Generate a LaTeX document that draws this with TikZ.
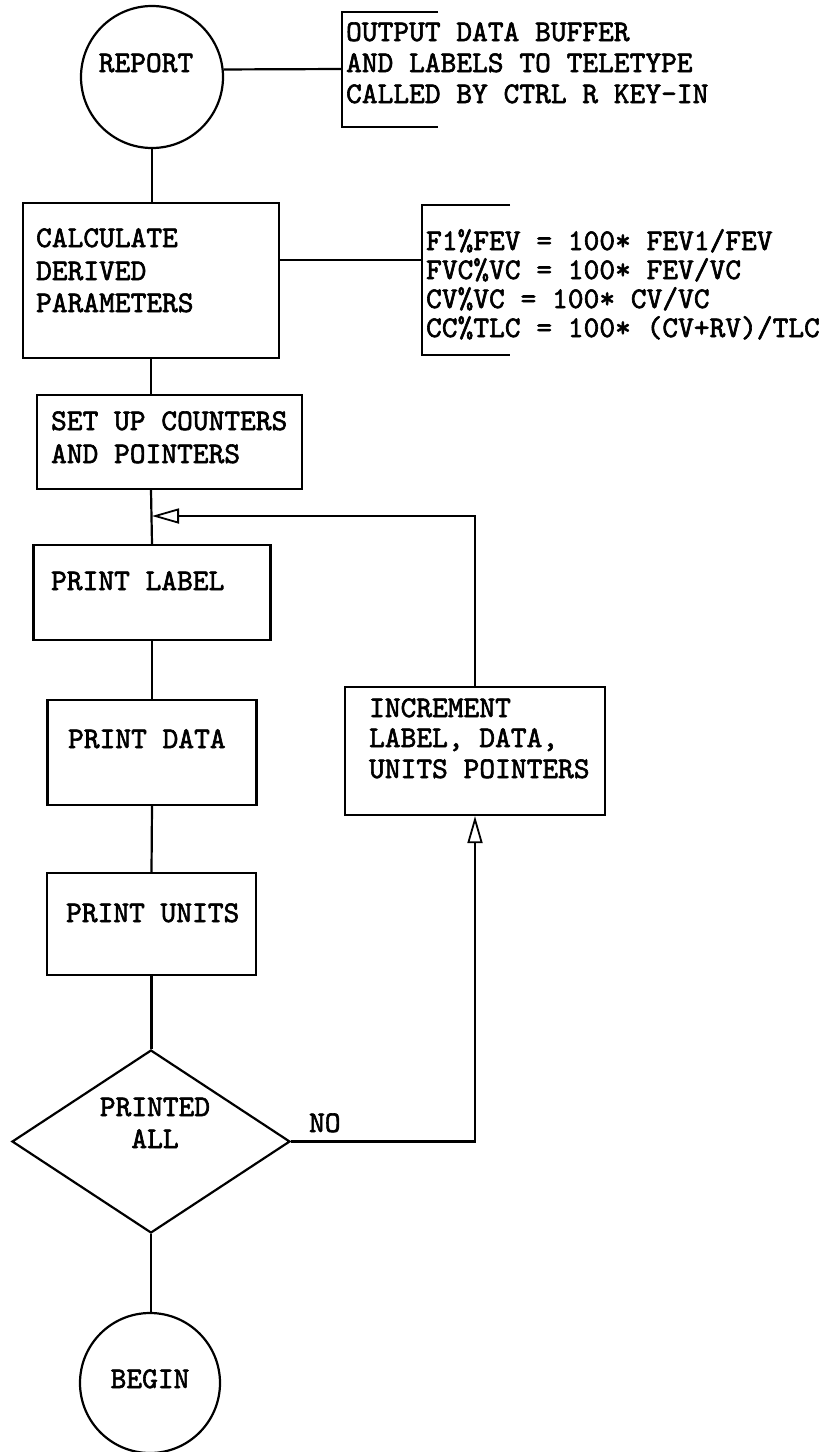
\documentclass[tikz,border=0pt]{standalone}
\usepackage{fontspec}
\newfontfamily\tw{lmmono10-regular}[Extension=.otf,FakeBold=2]
\usetikzlibrary{shapes.geometric,arrows.meta}
\begin{document}
\begin{tikzpicture}[x=1pt,y=-1pt,line width=2.2pt,
  txt/.style={font=\tw\fontsize{30}{31}\selectfont,anchor=base west,inner sep=0pt},
  ctxt/.style={font=\tw\fontsize{30}{31}\selectfont,anchor=base,inner sep=0pt},
  box/.style={draw,rectangle,inner sep=0pt},
  term/.style={draw,circle,inner sep=0pt},
  dec/.style={draw,diamond,inner sep=0pt},
  open tip/.style={-{Triangle[open,length=27pt,width=15pt,line width=1.8pt]}}]
\useasboundingbox (0,0) rectangle (833,1452);
\fill[white] (0,0) rectangle (833,1452);

% nodes
\node[term,minimum size=142pt] (report) at (152,77) {};
\node[box,minimum width=256pt,minimum height=155pt] (calc) at (151,280.5) {};
\node[box,minimum width=265pt,minimum height=94pt] (setup) at (169.5,442) {};
\node[box,minimum width=237pt,minimum height=95pt] (plabel) at (152,592.5) {};
\node[box,minimum width=209pt,minimum height=105pt] (pdata) at (152,752.5) {};
\node[box,minimum width=209pt,minimum height=102pt] (punits) at (151.5,924) {};
\node[dec,minimum width=278pt,minimum height=183pt] (printed) at (151,1141.5) {};
\node[term,minimum size=140pt] (begin) at (150,1383) {};
\node[box,minimum width=260pt,minimum height=128pt] (incr) at (475,751) {};

% annotation brackets
\coordinate (b1) at (342,69);
\draw (438,12) -- (342,12) -- (342,127) -- (438,127);
\coordinate (b2) at (422,260);
\draw (510,205) -- (422,205) -- (422,355) -- (510,355);

% texts
\node[ctxt] (treport) at (146,72) {REPORT};
\node[txt] (t1a) at (345,41) {OUTPUT DATA BUFFER};
\node[txt] (t1b) at (345,72) {AND LABELS TO TELETYPE};
\node[txt] (t1c) at (345,103) {CALLED BY CTRL R KEY-IN};
\node[txt] (tca) at (35,247) {CALCULATE};
\node[txt] (tcb) at (35,280) {DERIVED};
\node[txt] (tcc) at (35,312) {PARAMETERS};
\node[txt] (t2a) at (425,250) {F1\%FEV = 100* FEV1/FEV};
\node[txt] (t2b) at (425,279) {FVC\%VC = 100* FEV/VC};
\node[txt] (t2c) at (425,308) {CV\%VC = 100* CV/VC};
\node[txt] (t2d) at (425,337) {CC\%TLC = 100* (CV+RV)/TLC};
\node[txt] (tsa) at (50,430) {SET UP COUNTERS};
\node[txt] (tsb) at (50,463) {AND POINTERS};
\node[txt] (tpl) at (50,590) {PRINT LABEL};
\node[txt] (tpd) at (67,748) {PRINT DATA};
\node[txt] (tpu) at (65,922) {PRINT UNITS};
\node[txt] (tia) at (368,717) {INCREMENT};
\node[txt] (tib) at (368,747) {LABEL, DATA,};
\node[txt] (tic) at (368,778) {UNITS POINTERS};
\node[ctxt] (tda) at (155,1116) {PRINTED};
\node[ctxt] (tdb) at (155,1148) {ALL};
\node[txt] (tno) at (308,1132) {NO};
\node[ctxt] (tbeg) at (150,1388) {BEGIN};

% connectors
\draw (report.6.5) -- (b1);
\draw (calc.east |- b2) -- (b2);
\draw (report.south) -- (report.south |- calc.north);
\draw (calc.south) -- (calc.south |- setup.north);
\draw (calc.south |- setup.south) -- (plabel.north);
\draw (plabel.south) -- (pdata.north);
\draw (pdata.south) -- (punits.north);
\draw (punits.south) -- (punits.south |- printed.north);
\draw (printed.south) -- (printed.south |- begin.north);
\coordinate (join) at (152,516);
\draw[open tip] (incr.north) -- (incr.north |- join) -- (join);
\draw[open tip] (printed.east) -- (printed.east -| incr.south) -- (incr.south);
\end{tikzpicture}
\end{document}
